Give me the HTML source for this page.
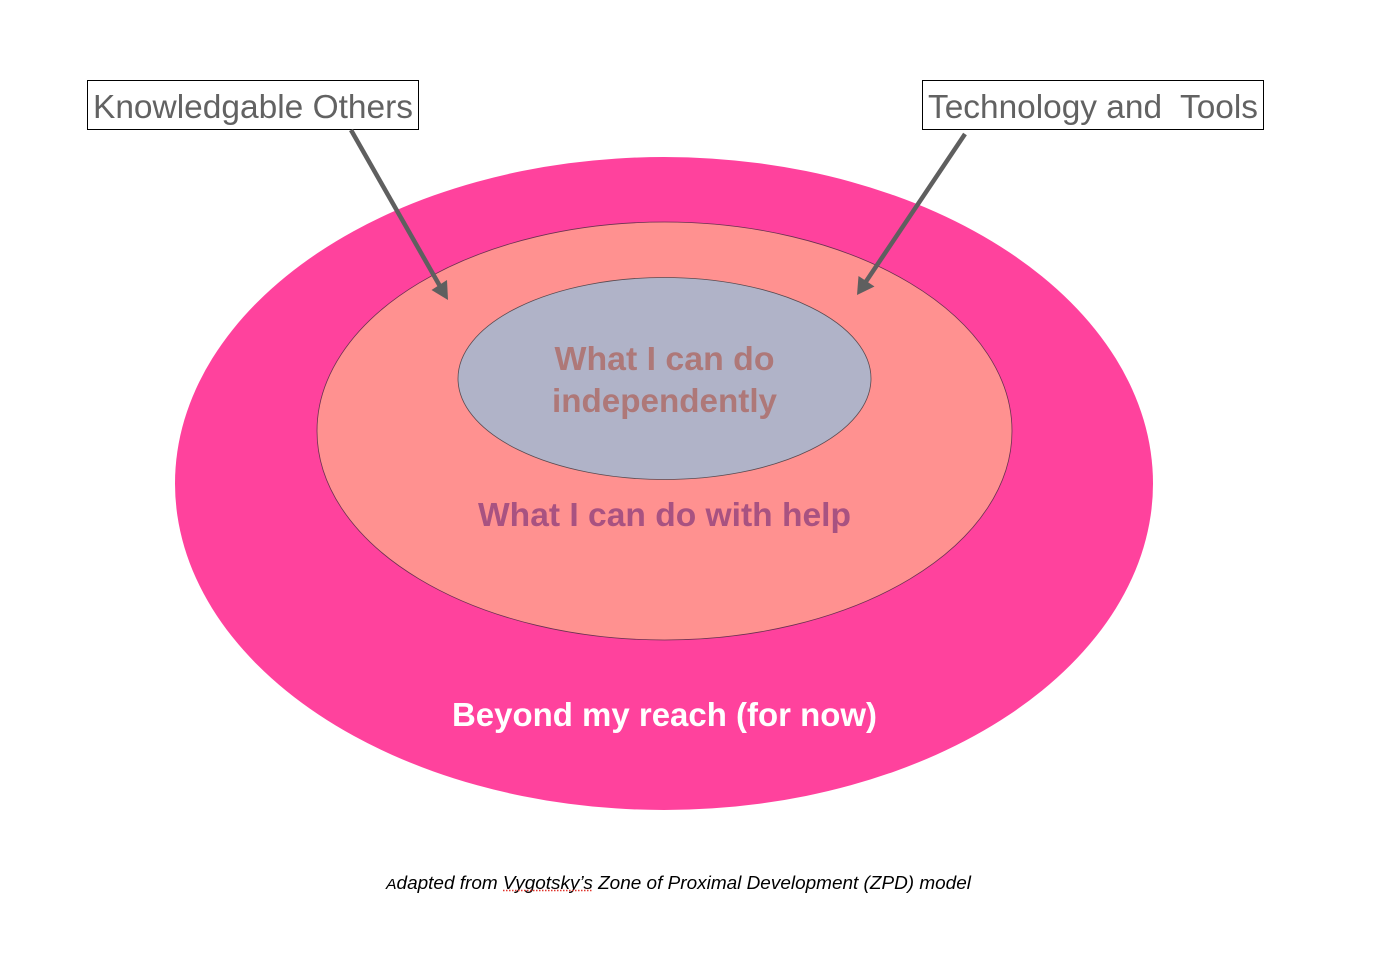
<!DOCTYPE html>
<html>
<head>
<meta charset="utf-8">
<style>
html,body{margin:0;padding:0;background:#fff;width:1396px;height:968px;overflow:hidden}
svg{display:block}
text{font-family:"Liberation Sans",Arial,sans-serif}
</style>
</head>
<body>
<svg width="1396" height="968" viewBox="0 0 1396 968" xmlns="http://www.w3.org/2000/svg">
<rect width="1396" height="968" fill="#fff"/>
<ellipse cx="664" cy="483.5" rx="489" ry="326.5" fill="#FF429D"/>
<ellipse cx="664.5" cy="431" rx="347.5" ry="209" fill="#FF9190" stroke="#6b3050" stroke-width="0.8"/>
<ellipse cx="664.5" cy="378.5" rx="206.5" ry="101" fill="#B0B3C8" stroke="#5a4a50" stroke-width="0.8"/>

<rect x="87.5" y="80.5" width="331" height="49" fill="#fff" stroke="#000" stroke-width="1"/>
<rect x="922.5" y="80.5" width="341" height="49" fill="#fff" stroke="#000" stroke-width="1"/>
<text x="93" y="118" font-size="33" fill="#626262" textLength="320" lengthAdjust="spacingAndGlyphs">Knowledgable Others</text>
<text x="928" y="118" font-size="33" fill="#626262" textLength="330" lengthAdjust="spacingAndGlyphs" xml:space="preserve">Technology and  Tools</text>

<line x1="351" y1="130" x2="441" y2="288" stroke="#5f5f5f" stroke-width="4.5"/>
<polygon points="448,300 431.5,290 447,280" fill="#5f5f5f"/>
<line x1="965" y1="134" x2="865" y2="283" stroke="#5f5f5f" stroke-width="4.5"/>
<polygon points="857,295 858.5,276 874.5,286.5" fill="#5f5f5f"/>

<g font-weight="700" text-anchor="middle">
<text x="664.5" y="370" font-size="33" fill="#AE7878" textLength="220" lengthAdjust="spacingAndGlyphs">What I can do</text>
<text x="664.5" y="412" font-size="33" fill="#AE7878" textLength="225" lengthAdjust="spacingAndGlyphs">independently</text>
<text x="664.5" y="526" font-size="33" fill="#A85281" textLength="373" lengthAdjust="spacingAndGlyphs">What I can do with help</text>
<text x="664.5" y="726" font-size="33" fill="#ffffff" textLength="425" lengthAdjust="spacingAndGlyphs">Beyond my reach (for now)</text>
</g>

<text x="386" y="889" font-size="18" font-style="italic" fill="#000" textLength="585" lengthAdjust="spacingAndGlyphs"><tspan font-size="15">A</tspan>dapted from Vygotsky’s Zone of Proximal Development (ZPD) model</text>
<line x1="503" y1="890.5" x2="592" y2="890.5" stroke="#e0342c" stroke-width="1.5" stroke-dasharray="1.5 1.5"/>
</svg>
</body>
</html>
